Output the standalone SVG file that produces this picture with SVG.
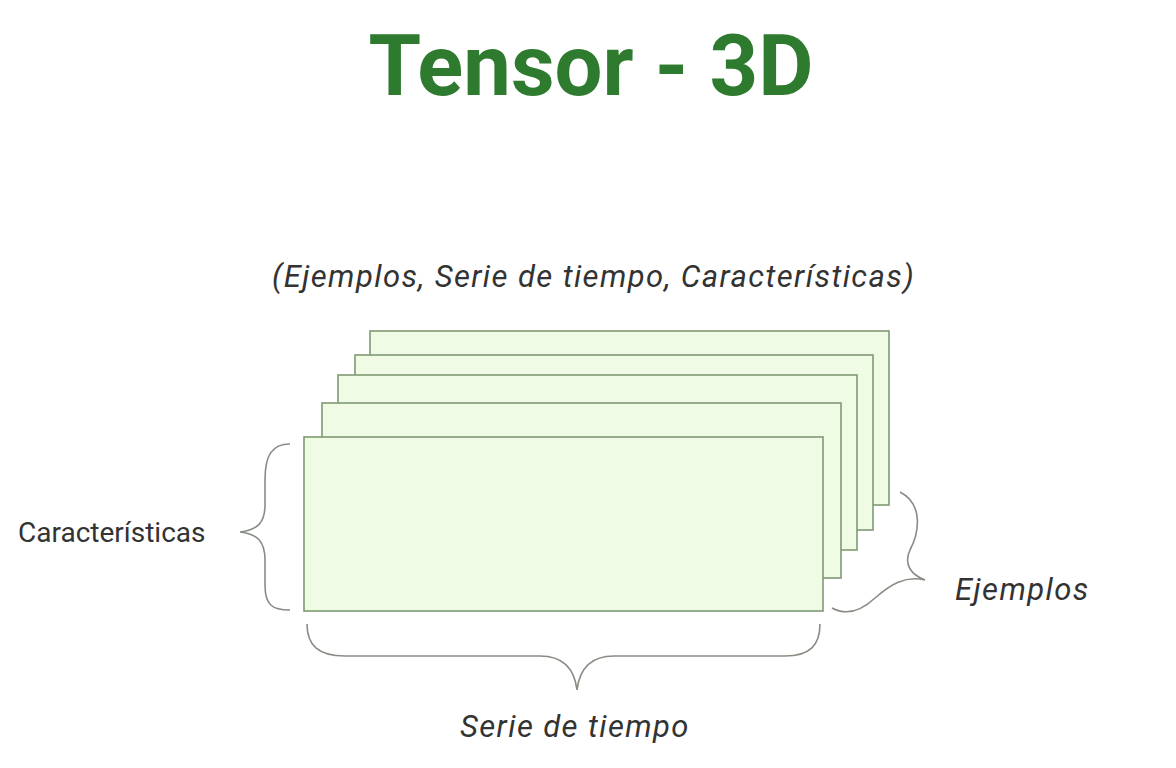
<svg xmlns="http://www.w3.org/2000/svg" width="1176" height="768" viewBox="0 0 1176 768">
<style>
.title{font-family:Roboto,"Liberation Sans",sans-serif;font-weight:bold;font-size:85px;fill:#2e7a2e}
.lbl{font-family:Roboto,"Liberation Sans",sans-serif;fill:#333;}
.it{font-style:italic;font-size:31px;letter-spacing:1.4px}
.sheet{fill:#effbe5;stroke:#7f9a72;stroke-width:1.6}
.brace{fill:none;stroke:#888d84;stroke-width:1.6}
</style>
<rect width="1176" height="768" fill="#ffffff"/>
<text class="title" x="591" y="95" text-anchor="middle">Tensor - 3D</text>
<text class="lbl it" x="272" y="287">(Ejemplos, Serie de tiempo, Características)</text>
<g id="sheets">
<g id="sheet5"><rect class="sheet" x="370" y="331" width="519" height="174"/></g>
<g id="sheet4"><rect class="sheet" x="355" y="355" width="518" height="175"/></g>
<g id="sheet3"><rect class="sheet" x="338" y="375" width="519" height="175"/></g>
<g id="sheet2"><rect class="sheet" x="322" y="403" width="519" height="175"/></g>
<g id="sheet1"><rect class="sheet" x="304" y="437" width="519" height="174"/></g>
</g>
<g id="connectors">
<path class="brace" d="M 290 444 C 272 444, 265 455, 265 480 L 265 505 C 265 522, 258 530, 240 532 C 258 534, 265 542, 265 560 L 265 585 C 265 605, 272 610, 290 610"/>
<path class="brace" d="M 307 624 C 307 645, 318 656, 345 656 L 540 656 C 560 656, 574 665, 577 690 C 580 665, 594 656, 614 656 L 785 656 C 810 656, 820 645, 820 624"/>
<path class="brace" d="M 900 492 C 925 505, 918 535, 910 550 C 903 565, 912 575, 925 580 C 905 575, 890 585, 875 598 C 860 612, 845 615, 832 608"/>
</g>
<text class="lbl" x="18" y="542" font-size="28">Características</text>
<text class="lbl it" x="955" y="600">Ejemplos</text>
<text class="lbl it" x="460" y="737">Serie de tiempo</text>
</svg>
